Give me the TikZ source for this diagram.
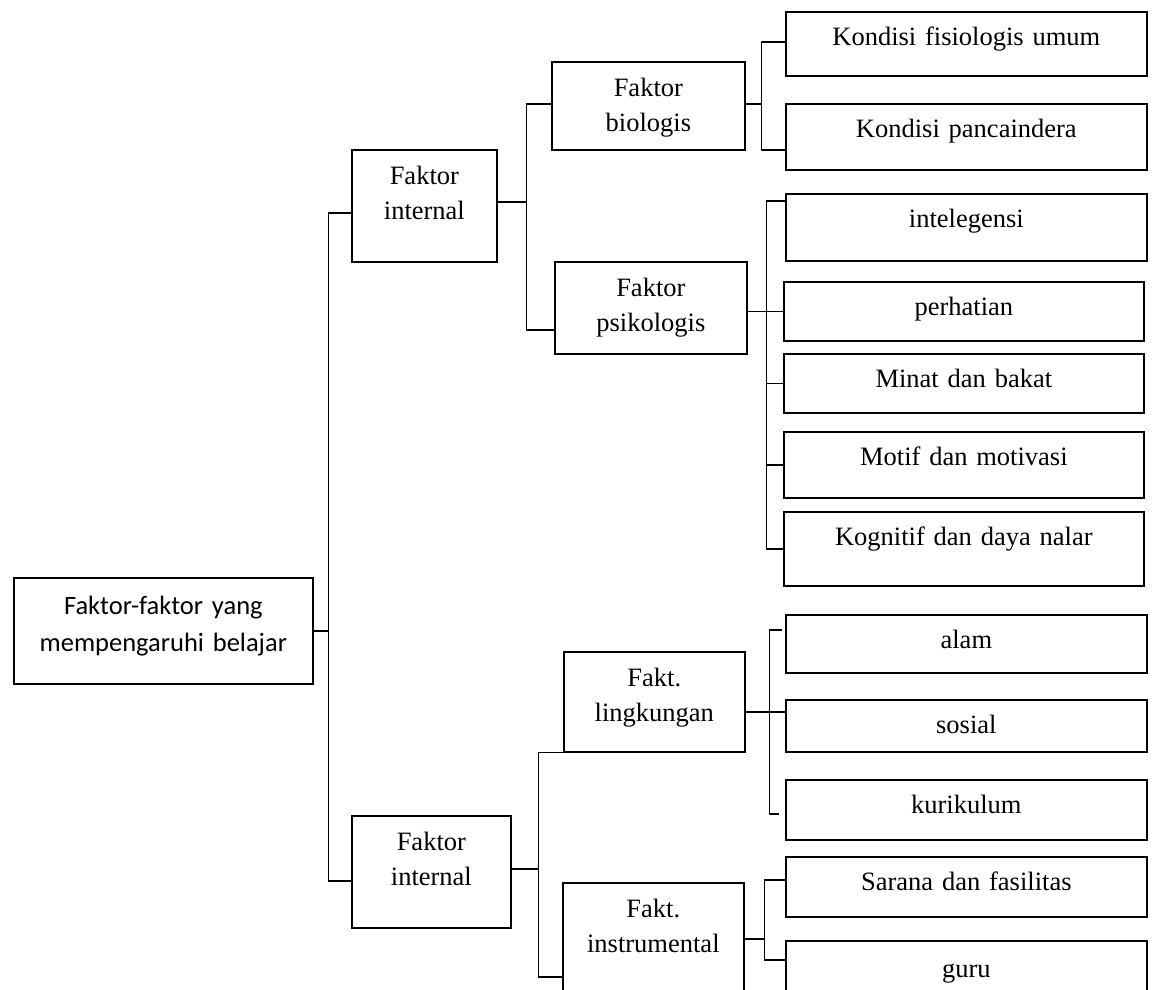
\documentclass[tikz,border=0pt]{standalone}
\usepackage{fontspec}
\setmainfont{Liberation Serif}
\newfontfamily\calibri{Carlito}
\usetikzlibrary{positioning}
\tikzset{
  box/.style  = {draw, line width=1.7pt, inner sep=0pt, align=center, anchor=north west, text height=35pt,
                 font=\fontsize{26.5}{34.5}\selectfont},
  leaf/.style = {box, text width=361pt, text height=34pt},
  line/.style = {line width=1.4pt},
}

\begin{document}
\begin{tikzpicture}[x=1pt,y=-1pt]
    \useasboundingbox (0,0) rectangle (1154,990);
    \node[box,text width=299pt,text height=37pt,text depth=69pt,font=\calibri\fontsize{26.5}{37}\selectfont] (root) at (13,577) {Faktor-faktor yang\\mempengaruhi belajar};

    \node[box,text width=145pt,text depth=77pt] (intA) at (351,149) {Faktor\\internal};
    \node[box,text width=159pt,text depth=77pt] (intB) at (351,815) {Faktor\\internal};

    \node[box,text width=193pt,text depth=53pt] (bio) at (551,61) {Faktor\\biologis};
    \node[box,text width=192pt,text depth=57pt] (psi) at (554,261) {Faktor\\psikologis};
    \node[box,text width=181pt,text depth=65pt] (ling) at (563,651) {Fakt.\\lingkungan};
    \node[box,text width=181pt,text depth=85pt] (instr) at (562,882) {Fakt.\\instrumental};

    \node[leaf,text depth=30pt] (fis) at (785,11) {Kondisi fisiologis umum};
    \node[leaf,text depth=32pt] (panca) at (785,103) {Kondisi pancaindera};
    \node[leaf,text depth=33pt] (intel) at (785,193) {intelegensi};
    \node[leaf,text width=360pt,text depth=25pt] (perh) at (783,281) {perhatian};
    \node[leaf,text width=360pt,text depth=25pt] (minat) at (783,353) {Minat dan bakat};
    \node[leaf,text width=360pt,text depth=32pt] (motif) at (783,431) {Motif dan motivasi};
    \node[leaf,text width=360pt,text depth=40pt] (kog) at (783,511) {Kognitif dan daya nalar};
    \node[leaf,text depth=24pt] (alam) at (785,614) {alam};
    \node[leaf,text depth=18pt] (sos) at (785,699) {sosial};
    \node[leaf,text depth=26pt] (kur) at (785,779) {kurikulum};
    \node[leaf,text depth=26pt] (sar) at (785,856) {Sarana dan fasilitas};
    \node[leaf,text height=37pt,text depth=23pt] (guru) at (785,940) {guru};

    \draw[line] (root.east) -- ++(15,0) coordinate (trunk);
    \draw[line] ([yshift=-7pt]intA.west) -| (trunk) |- ([yshift=-9pt]intB.west);

    \draw[line] ([yshift=4pt]intA.east) -- ++(29,0) coordinate (jA);
    \draw[line] ([yshift=2pt]bio.west) -| (jA) |- ([yshift=-22pt]psi.west);
    \draw[line] ([yshift=3pt]intB.east) -- ++(27,0) coordinate (jB);
    \draw[line] (ling.south west) -| (jB) |- ([yshift=-95pt]instr.north west);

    \draw[line] ([yshift=2pt]bio.east) -- ++(16,0) coordinate (jBio);
    \draw[line] ([yshift=2pt]fis.west) -| (jBio) |- ([yshift=-13pt]panca.west);

    \draw[line] (perh.west) -- (perh.west -| psi.east);
    \coordinate (jPsi) at ([xshift=19pt]psi.east);
    \draw[line] ([yshift=-8pt]intel.north west) -| (jPsi) |- (kog.west);
    \draw[line] (jPsi |- minat.west) -- (minat.west);
    \draw[line] (jPsi |- motif.west) -- (motif.west);

    \coordinate (jLing) at ([xshift=24pt,yshift=-10pt]ling.east);
    \draw[line] (jLing -| ling.east) -- (jLing -| sos.west);
    \draw[line] ([xshift=-3pt,yshift=-16pt]alam.north west) -| (jLing) |- ([xshift=-6pt,yshift=-35pt]kur.north west);

    \draw[line] ([yshift=-57pt]instr.north east) -- ++(20,0) coordinate (jIns);
    \draw[line] ([yshift=7pt]sar.west) -| (jIns) |- ([yshift=-20pt]guru.north west);
\end{tikzpicture}
\end{document}
